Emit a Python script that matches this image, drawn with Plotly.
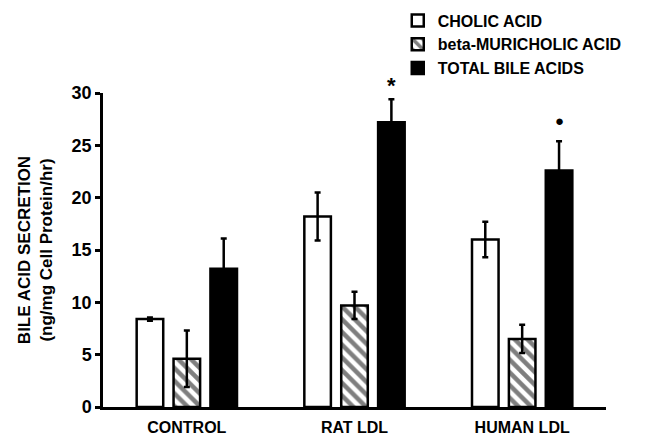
import plotly.graph_objects as go

categories = ["CONTROL", "RAT LDL", "HUMAN LDL"]
cholic = [8.4, 18.2, 16.0]
cholic_err = [0.15, 2.3, 1.7]
muricholic = [4.6, 9.7, 6.5]
muricholic_err = [2.7, 1.3, 1.35]
total = [13.2, 27.2, 22.6]
total_err = [2.9, 2.2, 2.8]
sig_marks = ["", "*", "●"]
y_ticks = [0, 5, 10, 15, 20, 25, 30]

FONT = "Liberation Sans, Arial, sans-serif"

def err(vals):
    return dict(type="data", array=vals, visible=True, color="black", thickness=2.5, width=3)

fig = go.Figure()
fig.add_trace(go.Bar(
    name="CHOLIC ACID", x=categories, y=cholic, error_y=err(cholic_err),
    marker=dict(color="white", line=dict(color="black", width=2.5)),
))
fig.add_trace(go.Bar(
    name="beta-MURICHOLIC ACID", x=categories, y=muricholic, error_y=err(muricholic_err),
    marker=dict(color="white", line=dict(color="black", width=2.5),
                pattern=dict(shape="\\", fgcolor="black", bgcolor="white", size=9, solidity=0.5)),
))
fig.add_trace(go.Bar(
    name="TOTAL BILE ACIDS", x=categories, y=total, error_y=err(total_err),
    marker=dict(color="black", line=dict(color="black", width=2.5)),
))

for c, t, e, m in zip(categories, total, total_err, sig_marks):
    if m:
        fig.add_annotation(
            x=c, y=t + e, xref="x", yref="y", text=m, showarrow=False,
            xshift=37, yshift=14 if m == "*" else 21,
            font=dict(size=22 if m == "*" else 15, color="black", family=FONT),
        )

fig.update_layout(
    width=645, height=438,
    margin=dict(l=103, r=39, t=93, b=31, autoexpand=False),
    paper_bgcolor="white", plot_bgcolor="white",
    barmode="group", bargap=0.34, bargroupgap=0.28,
    font=dict(family=FONT, size=17, color="black", weight="bold"),
    showlegend=True,
    legend=dict(
        x=0.586, y=1.285, xanchor="left", yanchor="top", yref="paper",
        bgcolor="rgba(0,0,0,0)", font=dict(size=16, family=FONT, weight="bold"),
        itemwidth=30, tracegroupgap=0,
    ),
)
fig.update_xaxes(
    range=[-0.5, 2.5], showline=True, linecolor="black", linewidth=2.5,
    ticks="", showgrid=False, zeroline=False, ticklabelstandoff=4,
    tickfont=dict(size=16), automargin=False,
)
fig.update_yaxes(
    range=[0, 30], tickvals=y_ticks, showline=True, linecolor="black", linewidth=2.5,
    ticks="outside", ticklen=5, tickwidth=2.5, tickcolor="black",
    showgrid=False, zeroline=False, tickfont=dict(size=18), automargin=False,
    title=dict(text="BILE ACID SECRETION<br>(ng/mg Cell Protein/hr)", font=dict(size=17), standoff=15),
)

fig.write_html(
    "out.html",
    config={"displayModeBar": False},
    post_script="document.body.style.margin='0';document.body.style.overflow='hidden';",
)
